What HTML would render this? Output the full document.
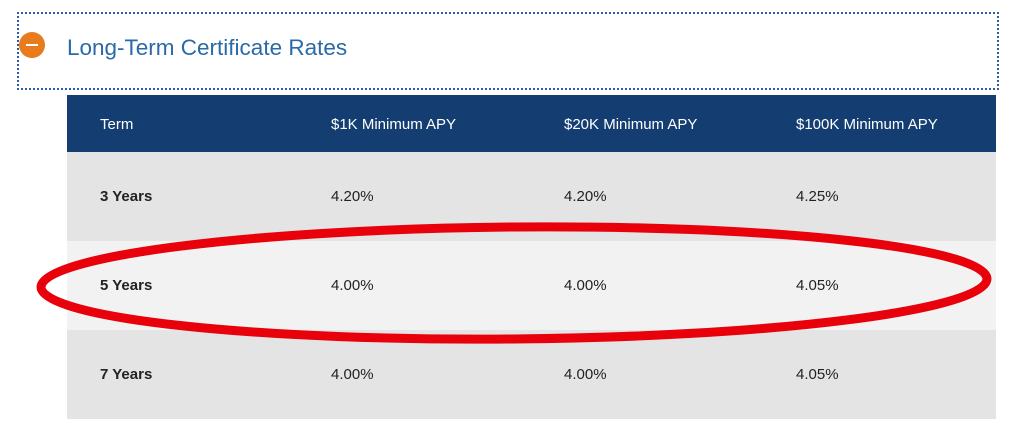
<!DOCTYPE html>
<html><head><style>
body{margin:0;width:1024px;height:431px;background:#fff;position:relative;overflow:hidden;font-family:"Liberation Sans",sans-serif}
.box{position:absolute;left:17px;top:12px;width:978px;height:74px;border:2px dotted #2a5aa8}
.icon{position:absolute;left:19px;top:32px;width:26px;height:26px;border-radius:50%;background:#e87b1c}
.icon:after{content:"";position:absolute;left:7px;top:12px;width:12px;height:2px;background:#fff}
.title{position:absolute;left:67px;top:35px;font-size:22.5px;color:#2a6aa8}
.row{position:absolute;left:67px;width:929px;font-size:15px;color:#222}
.row span{position:absolute;top:0}
.hdr{top:95px;height:57px;background:#143d72;color:#fff}
</style></head><body>
<div class="box"></div><div class="icon"></div>
<div class="title">Long-Term Certificate Rates</div>
<div class="row hdr"><span style="left:33px;top:21px">Term</span><span style="left:264px;top:21px">$1K Minimum APY</span><span style="left:497px;top:21px">$20K Minimum APY</span><span style="left:729px;top:21px">$100K Minimum APY</span></div>
<div class="row" style="top:152px;height:89px;background:#e4e4e4"><span style="left:33px;top:36px;font-weight:bold">3 Years</span><span style="left:264px;top:36px">4.20%</span><span style="left:497px;top:36px">4.20%</span><span style="left:729px;top:36px">4.25%</span></div>
<div class="row" style="top:241px;height:89px;background:#f2f2f2"><span style="left:33px;top:36px;font-weight:bold">5 Years</span><span style="left:264px;top:36px">4.00%</span><span style="left:497px;top:36px">4.00%</span><span style="left:729px;top:36px">4.05%</span></div>
<div class="row" style="top:330px;height:89px;background:#e4e4e4"><span style="left:33px;top:36px;font-weight:bold">7 Years</span><span style="left:264px;top:36px">4.00%</span><span style="left:497px;top:36px">4.00%</span><span style="left:729px;top:36px">4.05%</span></div>
<svg width="1024" height="431" style="position:absolute;left:0;top:0"><ellipse cx="514" cy="283" rx="473" ry="56" fill="none" stroke="#e8000a" stroke-width="9" transform="rotate(-0.5 514 283)"/></svg>
</body></html>
